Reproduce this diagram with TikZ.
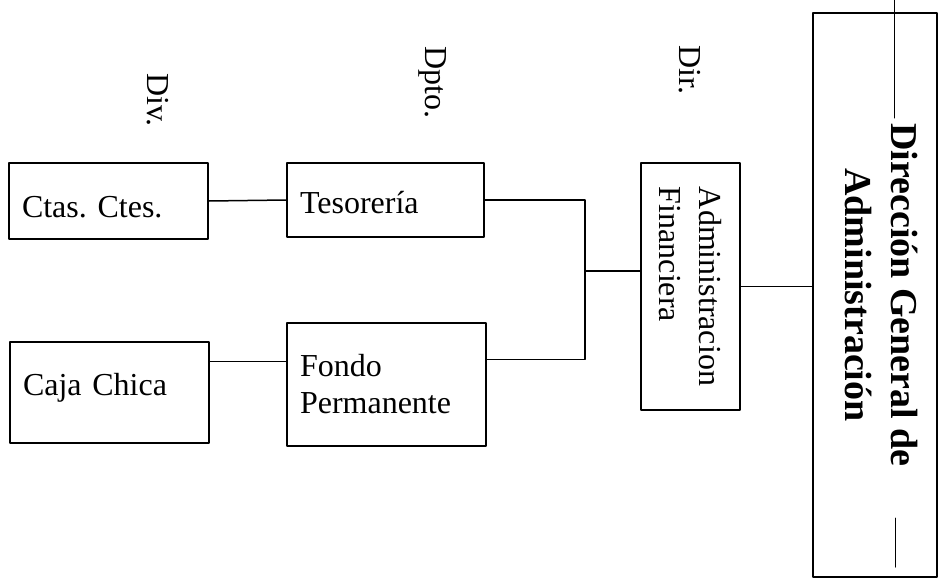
\documentclass[tikz,border=0pt]{standalone}
\usepackage{fontspec}
\setmainfont{Liberation Serif}
\usetikzlibrary{calc}
\frenchspacing

\begin{document}
\begin{tikzpicture}[x=1pt,y=-1pt,line cap=round,line join=round,line width=1.5pt,
  unidad/.style={draw,line width=1.6pt,inner ysep=0pt,inner xsep=13pt,align=left,
    font=\fontsize{32}{37}\selectfont},
  girada/.style={draw,line width=1.6pt,rotate=-90,inner sep=0pt},
  nivel/.style={rotate=-90,inner sep=0pt,font=\fontsize{32}{38}\selectfont}]
\path[use as bounding box] (0,0) rectangle (941,578);
\fill[white] (0,0) rectangle (941,578);

% niveles: Div., Dpto., Dir.
\node[nivel] (div) at (158,100) {Div.};
\node[nivel] (dpto) at (433,82) {Dpto.};
\node[nivel] (dir) at (690,70) {Dir.};

% divisiones y departamentos
\node[unidad,text width=173pt,minimum height=76pt,text height=32pt,text depth=0pt] (ctas) at (108.5,201) {Ctas. Ctes.};
\node[unidad,text width=171pt,minimum height=74pt,text height=26pt,text depth=0pt] (teso) at (385.5,200) {Tesorería};
\node[unidad,text width=173pt,minimum height=101pt,text height=22pt,text depth=17pt] (caja) at (109.5,392.5) {Caja Chica};
\node[unidad,text width=173pt,minimum height=123pt] (fondo) at (386.5,384.5) {Fondo\\Permanente};

% direcciones (texto girado)
\node[girada,minimum width=247pt,minimum height=99pt,align=left,
  font=\fontsize{32}{40}\selectfont] (admfin) at (690.5,286.5) {Administracion\\Financiera};
\node[girada,line width=1.8pt,minimum width=564pt,minimum height=124pt,align=center,text depth=14pt,
  font=\bfseries\fontsize{38}{46}\selectfont] (dirgen) at (875,295) {Dirección General de\\Administración};

% conexiones
\coordinate (nudo) at (585,271);
\draw (ctas.east) -- (teso.west);
\draw ([yshift=31pt]caja.east) -- ([yshift=31pt]caja.east -| fondo.west);
\draw (teso.east) -| (nudo) |- ([yshift=25pt]fondo.east);
\draw (nudo) -- (nudo -| admfin.south);
\draw (admfin.north) -- (admfin.north -| dirgen.south);

% trazos sueltos sobre la dirección general
\draw[line width=1pt] (894,0) -- (894,118);
\draw[line width=1pt] (895,518) -- (895,567);
\end{tikzpicture}
\end{document}
